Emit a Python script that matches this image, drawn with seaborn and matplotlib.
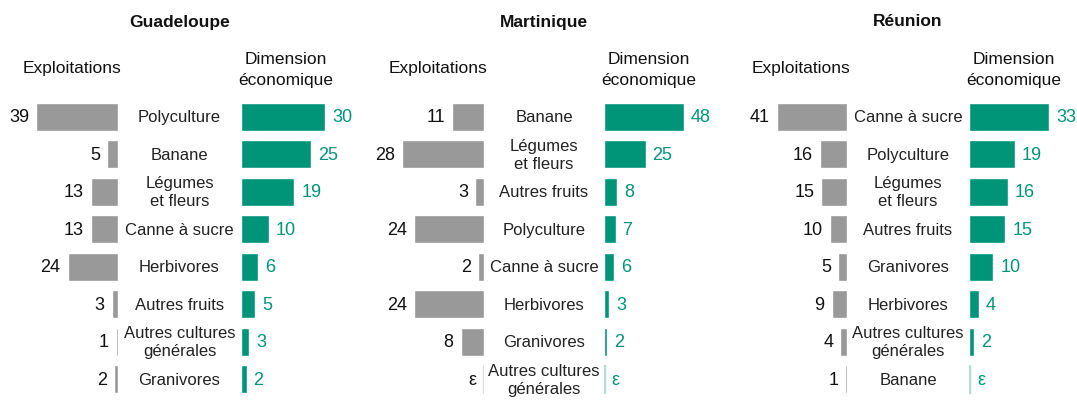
import matplotlib as mpl
import matplotlib.pyplot as plt
import seaborn as sns
import numpy as np
import pandas as pd

sns.set_style('white')
plt.rcParams['font.family'] = ['Liberation Sans Narrow', 'Liberation Sans', 'DejaVu Sans']

GRIS = '#999999'
VERT = '#009479'
EPS = 0.4  # valeur symbolique pour les cas "ε"

regions = {
    'Guadeloupe': pd.DataFrame({
        'orientation': ['Polyculture', 'Banane', 'Légumes\net fleurs', 'Canne à sucre', 'Herbivores',
                        'Autres fruits', 'Autres cultures\ngénérales', 'Granivores'],
        'exploitations': [39, 5, 13, 13, 24, 3, 1, 2],
        'dimension': [30, 25, 19, 10, 6, 5, 3, 2]}),
    'Martinique': pd.DataFrame({
        'orientation': ['Banane', 'Légumes\net fleurs', 'Autres fruits', 'Polyculture', 'Canne à sucre',
                        'Herbivores', 'Granivores', 'Autres cultures\ngénérales'],
        'exploitations': [11, 28, 3, 24, 2, 24, 8, EPS],
        'dimension': [48, 25, 8, 7, 6, 3, 2, EPS]}),
    'Réunion': pd.DataFrame({
        'orientation': ['Canne à sucre', 'Polyculture', 'Légumes\net fleurs', 'Autres fruits', 'Granivores',
                        'Herbivores', 'Autres cultures\ngénérales', 'Banane'],
        'exploitations': [41, 16, 15, 10, 5, 9, 4, 1],
        'dimension': [33, 19, 16, 15, 10, 4, 2, EPS]}),
}

# position en pixels : bord des barres grises, px par unité, bord des barres vertes, px par unité
geometrie = {
    'Guadeloupe': (118, 82 / 39, 241, 84 / 30),
    'Martinique': (484, 82 / 28, 604, 80 / 48),
    'Réunion': (847, 70 / 41, 969, 80 / 33),
}

W, H = 1077, 406
fig = plt.figure(figsize=(W / 100, H / 100), dpi=100)

def etiquette(v):
    return 'ε' if v == EPS else str(int(v))

larg = 95
y_bas, y_haut = 399, 99
for nom, df in regions.items():
    xg, sg, xv, sv = geometrie[nom]
    centre = (xg + xv) / 2

    ax_g = fig.add_axes([(xg - larg) / W, (H - y_bas) / H, larg / W, (y_bas - y_haut) / H])
    sns.barplot(data=df, x='exploitations', y='orientation', color=GRIS, saturation=1,
                width=0.75, ax=ax_g)
    ax_g.set_xlim(larg / sg, 0)
    for i, v in enumerate(df['exploitations']):
        if v == EPS:
            ax_g.patches[i].set_color('#dddddd')
        ax_g.annotate(etiquette(v), (v, i), xytext=(-5, 0), textcoords='offset points',
                      ha='right', va='center', fontsize=13, color='#111111')

    ax_v = fig.add_axes([xv / W, (H - y_bas) / H, larg / W, (y_bas - y_haut) / H])
    sns.barplot(data=df, x='dimension', y='orientation', color=VERT, saturation=1,
                width=0.75, ax=ax_v)
    ax_v.set_xlim(0, larg / sv)
    for i, v in enumerate(df['dimension']):
        if v == EPS:
            ax_v.patches[i].set_color('#b3ddd3')
        ax_v.annotate(etiquette(v), (v, i), xytext=(5, 0), textcoords='offset points',
                      ha='left', va='center', fontsize=13, color=VERT)

    for ax in (ax_g, ax_v):
        ax.axis('off')

    for i, lab in enumerate(df['orientation']):
        ax_g.annotate(lab, (0, i), xytext=(centre - xg, 0), textcoords='offset pixels',
                      ha='center', va='center', fontsize=12, color='#222222', linespacing=1.25,
                      annotation_clip=False)

    fig.text(centre / W, 1 - 22 / H, nom, ha='center', va='center', fontsize=12.5,
             fontweight='bold', color='#111111')
    fig.text((xg - 46) / W, 1 - 68 / H, 'Exploitations', ha='center', va='center',
             fontsize=12.5, color='#111111')
    fig.text((xv + 45) / W, 1 - 70 / H, 'Dimension\néconomique', ha='center', va='center',
             fontsize=12.5, color='#111111', linespacing=1.5)

plt.savefig('out.png', dpi=100)
